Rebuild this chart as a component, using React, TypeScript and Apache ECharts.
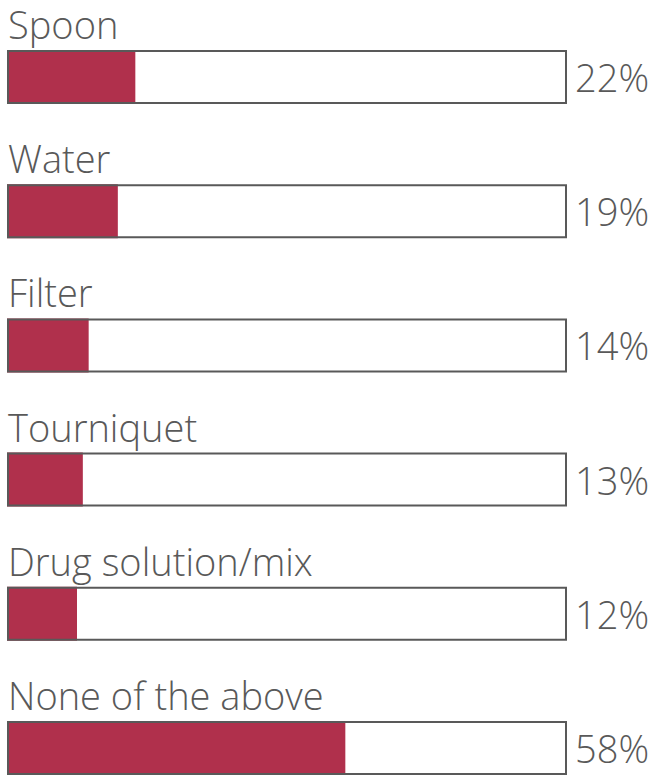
import React, { useEffect, useRef } from "react";
import * as echarts from "echarts";

const categories = ["Spoon", "Water", "Filter", "Tourniquet", "Drug solution/mix", "None of the above"];
const values = [22, 19, 14, 13, 12, 58];
const valueLabels = ["22%", "19%", "14%", "13%", "12%", "58%"];
const axisMax = 96;

export default function App() {
  const ref = useRef<HTMLDivElement>(null);
  useEffect(() => {
    const chart = echarts.init(ref.current!, null, { renderer: "svg" });
    const full = categories.map(() => axisMax);
    const font = { fontFamily: "Open Sans", fontWeight: 300, fontSize: 38, color: "#595959" };
    chart.setOption({
      animation: false,
      grid: {
        left: 7,
        width: 560,
        top: 9.9,
        height: 805.2,
        containLabel: false,
        outerBoundsMode: "none",
      },
      xAxis: { type: "value", min: 0, max: axisMax, show: false },
      yAxis: { type: "category", data: categories, inverse: true, show: false },
      series: [
        {
          type: "bar",
          data: full,
          barWidth: 54,
          barGap: "-100%",
          silent: true,
          itemStyle: { color: "#ffffff" },
          label: {
            show: true,
            position: [1, -26],
            align: "left",
            verticalAlign: "middle",
            formatter: (p: any) => p.name,
            ...font,
          },
        },
        {
          type: "bar",
          data: values,
          barWidth: 54,
          barGap: "-100%",
          silent: true,
          itemStyle: { color: "#B0304C" },
        },
        {
          type: "bar",
          data: full,
          barWidth: 54,
          barGap: "-100%",
          silent: true,
          itemStyle: { color: "rgba(0,0,0,0)", borderColor: "#595959", borderWidth: 2 },
          label: {
            show: true,
            position: "right",
            distance: 8,
            formatter: (p: any) => valueLabels[p.dataIndex],
            ...font,
          },
        },
      ],
    });
    return () => chart.dispose();
  }, []);
  return (
    <div
      ref={ref}
      style={{ position: "fixed", left: 0, top: 0, width: 652, height: 776, background: "#ffffff" }}
    />
  );
}
